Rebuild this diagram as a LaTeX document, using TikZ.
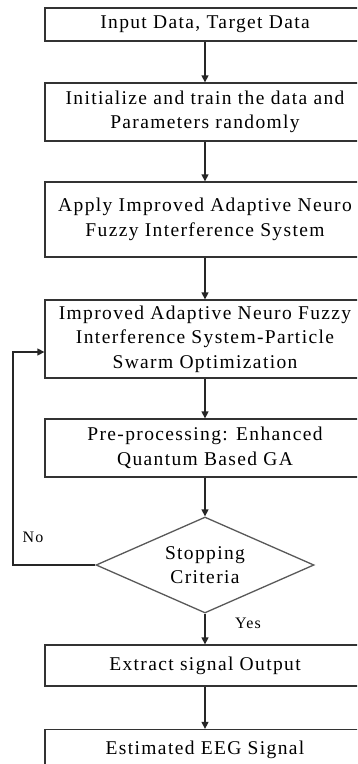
\documentclass[tikz,border=0pt]{standalone}
\usepackage{fontspec}
\setmainfont[LetterSpace=7]{Liberation Serif}
\usetikzlibrary{arrows.meta,shapes.geometric}
\begin{document}
\begin{tikzpicture}[x=1pt,y=-1pt,
  every node/.style={font=\fontsize{19.5}{24.5}\selectfont, text=black},
  box/.style={draw=black!80, line width=1.3pt, rectangle, minimum width=320pt, inner sep=0pt, align=center},
  dec/.style={draw=black!65, line width=1.3pt, diamond, aspect=2.27, minimum width=218pt, minimum height=96pt, inner sep=0pt, align=center},
  arr/.style={draw=black!85, line width=1.3pt, -{Triangle[length=7pt,width=7pt]}},
  lbl/.style={font=\fontsize{16}{18}\selectfont}]
\clip (0,0) rectangle (357,764);
\fill[white] (0,0) rectangle (357,764);
\node[box, minimum height=33pt] (b1) at (205,24.5) {Input Data, Target Data};
\node[box, minimum height=58pt] (b2) at (205,112) {Initialize and train the data and\\Parameters randomly};
\node[box, minimum height=75pt] (b3) at (205,219.5) {Apply Improved Adaptive Neuro\\Fuzzy Interference System};
\node[box, minimum height=78pt] (b4) at (205,339) {Improved Adaptive Neuro Fuzzy\\Interference System-Particle\\Swarm Optimization};
\node[box, minimum height=58pt] (b5) at (205,448) {Pre-processing: Enhanced\\Quantum Based GA};
\node[dec] (d) at (205,565) {Stopping\\Criteria};
\node[box, minimum height=41pt] (b6) at (205,665.5) {Extract signal Output};
\node[box, minimum height=41pt] (b7) at (205,750) {Estimated EEG Signal};
\coordinate (c1) at (13,565);
\coordinate (c2) at (13,352);
\draw[arr] (b1) -- (b2);
\draw[arr] (b2) -- (b3);
\draw[arr] (b3) -- (b4);
\draw[arr] (b4) -- (b5);
\draw[arr] (b5) -- (d);
\draw[arr] (d) -- (b6);
\draw[arr] (b6) -- (b7);
\draw[arr] (d.west) -- (c1) -- (c2) -- (c2 -| b4.west);
\node[lbl] (no) at (33,537) {No};
\node[lbl] (yes) at (248,623) {Yes};
\end{tikzpicture}
\end{document}
